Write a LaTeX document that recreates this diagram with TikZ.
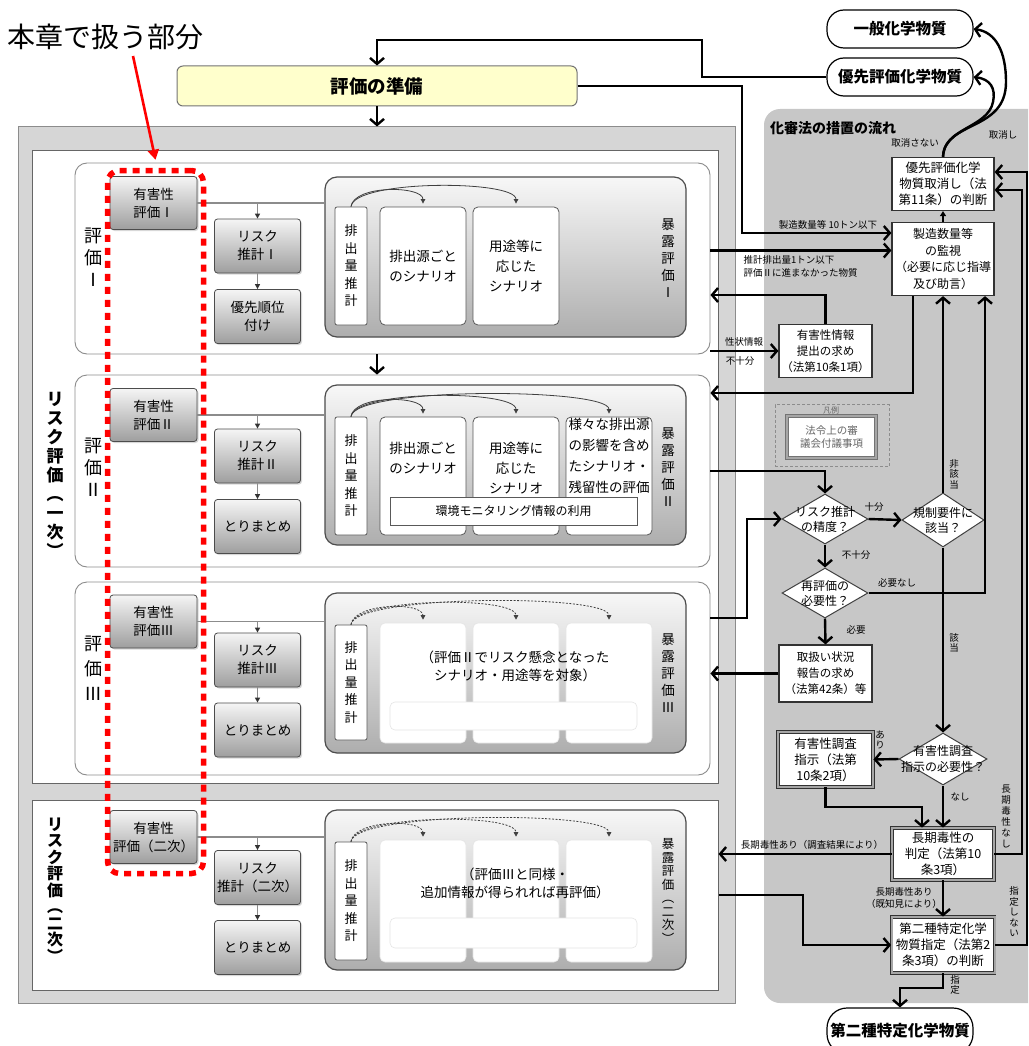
\documentclass[tikz,border=0pt]{standalone}
\usepackage{fontspec}
\setmainfont{Noto Sans CJK JP}
\usetikzlibrary{arrows.meta,shapes.geometric,calc,shadows}
\definecolor{prepy}{RGB}{255,255,204}
\newcommand\myfs[2]{\fontsize{#1}{#2}\selectfont}
\begin{document}
\begin{tikzpicture}[x=1pt,y=-1pt,
  hz/.style={draw=black!70, line width=0.8pt, rounded corners=3pt, top color=black!4, bottom color=black!38, align=center, minimum width=87pt, minimum height=53pt, inner sep=1pt, font=\myfs{13.5}{18}, drop shadow={shadow xshift=1.5pt, shadow yshift=-1.5pt, opacity=0.3}},
  wpanel/.style={draw=black!45, line width=0.9pt, fill=white, rounded corners=12pt, inner sep=0pt},
  expanel/.style={draw=black!70, line width=1.2pt, rounded corners=12pt, top color=black!3, bottom color=black!32, inner sep=0pt},
  scen/.style={draw=black!65, line width=0.8pt, fill=white, rounded corners=5pt, minimum width=86pt, minimum height=118pt, align=center, font=\myfs{13.5}{20}, inner sep=0pt},
  fade/.style={draw=black!10, line width=0.6pt, fill=white, rounded corners=5pt, inner sep=0pt},
  emis/.style={draw=black!65, line width=0.8pt, fill=white, rounded corners=2pt, minimum width=32pt, align=center, font=\myfs{13}{17.5}, inner sep=0pt},
  vlab/.style={align=center, inner sep=0pt, font=\myfs{18}{22}},
  exlab/.style={align=center, inner sep=0pt, font=\myfs{13.5}{17}},
  stext/.style={align=center, inner sep=0pt, font=\myfs{13.5}{20}},
  rbox/.style={draw=black!80, line width=1.2pt, fill=white, align=center, inner sep=0pt, font=\myfs{12.5}{16}},
  dbox/.style={rbox, draw=black!80, double=black!35, double distance=2pt, line width=0.8pt},
  pill/.style={draw=black, line width=1.2pt, fill=white, rounded corners=17pt, font=\bfseries\myfs{15.5}{17}, minimum width=146pt, minimum height=38pt, inner sep=0pt},
  dia/.style={diamond, draw=black!75, line width=1pt, fill=white, minimum width=86pt, minimum height=50pt, inner sep=0pt},
  dtext/.style={align=center, inner sep=0pt, font=\myfs{12}{15}},
  lbl/.style={inner sep=0.5pt, font=\myfs{9.5}{11}, align=center},
  arr/.style={line width=2.4pt, -{Straight Barb[length=6pt,width=14pt]}},
  gline/.style={draw=black!45, line width=1.3pt},
  tarr/.style={draw=black!45, line width=1.3pt, -{Triangle[length=5pt,width=5pt,fill=black!80,color=black!80]}},
  carr/.style={draw=black!75, line width=0.8pt, -{Triangle[length=4.5pt,width=4.5pt]}},
  dcarr/.style={carr, dash pattern=on 2pt off 1.5pt},
]
\useasboundingbox (0,0) rectangle (1028,1046);
\clip (0,0) rectangle (1028,1046);

% ---------- top ----------
\node[anchor=west, inner sep=0pt, font=\myfs{28}{30}] (title) at (7,37) {本章で扱う部分};
\node[draw=black!55, line width=1pt, fill=prepy, rounded corners=6pt, minimum width=400pt, minimum height=40pt, font=\bfseries\myfs{18.5}{20}] (prep) at (377,86) {評価の準備};

% ---------- left big frame ----------
\node[draw=black!45, fill=black!16, line width=1pt, minimum width=717pt, minimum height=876pt, inner sep=0pt] (outer) at (376.5,565) {};
\node[draw=black!60, fill=white, line width=1pt, minimum width=686pt, minimum height=633pt, inner sep=0pt] (r1) at (375,466.5) {};
\node[draw=black!60, fill=white, line width=1pt, minimum width=686pt, minimum height=190pt, inner sep=0pt] (r2) at (375,895) {};

\node[vlab, font=\bfseries\myfs{17}{19}] (L1) at (55,475) {リ\\ス\\ク\\評\\価\\︵\\一\\次\\︶};
\node[vlab, font=\bfseries\myfs{16}{16.5}] (L2) at (55,890) {リ\\ス\\ク\\評\\価\\︵\\二\\次\\︶};

\node[wpanel, minimum width=635pt, minimum height=191pt] (e1) at (392.5,258.5) {};
\node[wpanel, minimum width=635pt, minimum height=192pt] (e2) at (392.5,471) {};
\node[wpanel, minimum width=635pt, minimum height=193pt] (e3) at (392.5,678.5) {};

\node[vlab] (v1) at (93,257) {評\\価\\Ⅰ};
\node[vlab] (v2) at (93,467) {評\\価\\Ⅱ};
\node[vlab, font=\myfs{18}{25}] (v3) at (93,668) {評\\価\\Ⅲ};

% hazard / risk boxes
\node[hz] (h1) at (153.5,203) {有害性\\評価Ⅰ};
\node[hz] (h2) at (153.5,415) {有害性\\評価Ⅱ};
\node[hz] (h3) at (153.5,621.5) {有害性\\評価Ⅲ};
\node[hz] (h4) at (153.5,837) {有害性\\評価（二次）};

\node[hz, minimum width=86pt, minimum height=54pt] (k1) at (257.5,246) {リスク\\推計Ⅰ};
\node[hz, minimum width=86pt, minimum height=54pt] (p1) at (257.5,316.5) {優先順位\\付け};
\node[hz, minimum width=86pt, minimum height=54pt] (k2) at (257.5,456) {リスク\\推計Ⅱ};
\node[hz, minimum width=86pt, minimum height=54pt] (q2) at (257.5,526.5) {とりまとめ};
\node[hz, minimum width=86pt, minimum height=54pt] (k3) at (257.5,660) {リスク\\推計Ⅲ};
\node[hz, minimum width=86pt, minimum height=54pt] (q3) at (257.5,730) {とりまとめ};
\node[hz, minimum width=86pt, minimum height=54pt] (k4) at (257.5,877.5) {リスク\\推計（二次）};
\node[hz, minimum width=86pt, minimum height=54pt] (q4) at (257.5,947.5) {とりまとめ};

% exposure panels
\node[expanel, minimum width=361pt, minimum height=160pt] (x1) at (505.5,257) {};
\node[expanel, minimum width=361pt, minimum height=160pt] (x2) at (505.5,465) {};
\node[expanel, minimum width=361pt, minimum height=160pt] (x3) at (505.5,673) {};
\node[expanel, minimum width=361pt, minimum height=160pt] (x4) at (505.5,890) {};

\node[exlab] (xl1) at (668,258) {暴\\露\\評\\価\\Ⅰ};
\node[exlab] (xl2) at (668,467) {暴\\露\\評\\価\\Ⅱ};
\node[exlab] (xl3) at (668,673) {暴\\露\\評\\価\\Ⅲ};
\node[exlab, font=\myfs{12.5}{13.5}] (xl4) at (668,891) {暴\\露\\評\\価\\︵\\二\\次\\︶};

% panel I
\node[emis, minimum height=118pt] (m1) at (351,266) {排\\出\\量\\推\\計};
\node[scen] (s1a) at (423,266) {排出源ごと\\のシナリオ};
\node[scen] (s1b) at (516,266) {用途等に\\応じた\\シナリオ};

% panel II
\node[emis, minimum height=118pt] (m2) at (351,476) {排\\出\\量\\推\\計};
\node[scen] (s2a) at (423,476) {};
\node[scen] (s2b) at (516,476) {};
\node[scen] (s2c) at (609,476) {};
\node[stext] (t2a) at (423,458) {排出源ごと\\のシナリオ};
\node[stext] (t2b) at (516,468) {用途等に\\応じた\\シナリオ};
\node[stext, font=\myfs{13.5}{21}] (t2c) at (609,456) {様々な排出源\\の影響を含め\\たシナリオ・\\残留性の評価};
\node[draw=black!65, line width=0.8pt, fill=white, minimum width=247pt, minimum height=28pt, inner sep=0pt, font=\myfs{12}{13}] (mo2) at (513.5,511) {環境モニタリング情報の利用};

% panel III
\node[emis, minimum height=115pt] (m3) at (351,682.5) {排\\出\\量\\推\\計};
\node[fade, minimum width=86pt, minimum height=120pt] (f3a) at (423,683) {};
\node[fade, minimum width=86pt, minimum height=120pt] (f3b) at (516,683) {};
\node[fade, minimum width=86pt, minimum height=120pt] (f3c) at (609,683) {};
\node[fade, minimum width=247pt, minimum height=28pt] (w3) at (513.5,716) {};
\node[stext, font=\myfs{13.5}{18}] (t3) at (515,666) {（評価Ⅱでリスク懸念となった\\シナリオ・用途等を対象）};

% panel (二次)
\node[emis, minimum height=118pt] (m4) at (351,901) {排\\出\\量\\推\\計};
\node[fade, minimum width=86pt, minimum height=122pt] (f4a) at (423,901) {};
\node[fade, minimum width=86pt, minimum height=122pt] (f4b) at (516,901) {};
\node[fade, minimum width=86pt, minimum height=122pt] (f4c) at (609,901) {};
\node[fade, minimum width=247pt, minimum height=30pt] (w4) at (513.5,933) {};
\node[stext, font=\myfs{13.5}{18}] (t4) at (515,883) {（評価Ⅲと同様・\\追加情報が得られれば再評価）};

% inner connectors left
\foreach \h/\k/\q/\x in {h1/k1/p1/x1, h2/k2/q2/x2, h3/k3/q3/x3, h4/k4/q4/x4}{
  \draw[gline] (\h.east) -- (\h.east -| \x.west);
  \draw[tarr] (\h.east -| \k.north) -- (\k.north);
  \draw[tarr] (\k.south) -- (\q.north);
}
\draw[carr] (m1.north) .. controls +(3,-22) and +(0,-18) .. ([yshift=3pt]s1a.north);
\draw[carr] (m1.north) .. controls +(3,-27) and +(0,-24) .. ([yshift=3pt]s1b.north);
\draw[carr] (m2.north) .. controls +(3,-22) and +(0,-18) .. ([yshift=3pt]s2a.north);
\draw[carr] (m2.north) .. controls +(3,-27) and +(0,-24) .. ([yshift=3pt]s2b.north);
\draw[carr] (m2.north) .. controls +(3,-30) and +(0,-26) .. ([yshift=3pt]s2c.north);
\draw[dcarr] (m3.north) .. controls +(3,-22) and +(0,-18) .. ([yshift=3pt]f3a.north);
\draw[dcarr] (m3.north) .. controls +(3,-27) and +(0,-24) .. ([yshift=3pt]f3b.north);
\draw[dcarr] (m3.north) .. controls +(3,-30) and +(0,-26) .. ([yshift=3pt]f3c.north);
\draw[dcarr] (m4.north) .. controls +(3,-22) and +(0,-18) .. ([yshift=3pt]f4a.north);
\draw[dcarr] (m4.north) .. controls +(3,-27) and +(0,-24) .. ([yshift=3pt]f4b.north);
\draw[dcarr] (m4.north) .. controls +(3,-30) and +(0,-26) .. ([yshift=3pt]f4c.north);

% ---------- right panel ----------
\fill[black!22, rounded corners=16pt] (764,109) rectangle (1070,1003);
\node[anchor=west, inner sep=0pt, font=\bfseries\myfs{14}{16}] (ttl) at (770,128) {化審法の措置の流れ};

\node[pill] (g1) at (900,29) {一般化学物質};
\node[pill] (g2) at (900,77) {優先評価化学物質};
\node[rbox, minimum width=102pt, minimum height=53pt] (cx) at (943,184) {優先評価化学\\物質取消し（法\\第11条）の判断};
\node[rbox, minimum width=102pt, minimum height=73pt, font=\myfs{12}{16.5}] (mon) at (943,259) {製造数量等\\の監視\\（必要に応じ指導\\及び助言）};
\node[rbox, minimum width=93pt, minimum height=53pt, font=\myfs{11.5}{16}] (hreq) at (825.5,351) {有害性情報\\提出の求め\\（法第10条1項）};

\node[draw=black!45, line width=0.8pt, dash pattern=on 3pt off 2pt, minimum width=114pt, minimum height=62pt, inner sep=0pt] (leg) at (832,435.5) {};
\node[inner sep=0pt, font=\myfs{8}{9}, text=black!60] (legt) at (831,410) {凡例};
\node[dbox, draw=black!55, text=black!60, font=\myfs{10.5}{13}, minimum width=89pt, minimum height=42pt] (legb) at (831.5,437) {法令上の審\\議会付議事項};

\node[dia] (d1) at (825,519) {};
\node[dtext] (d1t) at (d1) {リスク推計\\の精度？};
\node[dia, minimum width=82pt, minimum height=54pt] (d2) at (943,520) {};
\node[dtext] (d2t) at (d2) {規制要件に\\該当？};
\node[dia] (d3) at (825,593) {};
\node[dtext] (d3t) at (d3) {再評価の\\必要性？};
\node[rbox, minimum width=93pt, minimum height=57pt, font=\myfs{11.5}{16}] (rep) at (825.5,673.5) {取扱い状況\\報告の求め\\（法第42条）等};
\node[dia, minimum width=88pt, minimum height=52pt] (d4) at (943,759) {};
\node[dtext, font=\myfs{12}{16}] (d4t) at (d4) {有害性調査\\指示の必要性？};
\node[dbox, minimum width=95pt, minimum height=55pt] (inv) at (825.5,759.5) {有害性調査\\指示（法第\\10条2項）};
\node[dbox, minimum width=102pt, minimum height=52pt] (lt) at (943,854) {長期毒性の\\判定（法第10\\条3項）};
\node[dbox, minimum width=103pt, minimum height=56pt] (sp) at (943,945) {第二種特定化学\\物質指定（法第2\\条3項）の判断};
\node[pill, minimum height=46pt, rounded corners=20pt] (g3) at (900,1031) {第二種特定化学物質};

% ---------- connectors ----------
\coordinate (b2) at (702,40);
\draw[arr] (g2.west) -| (b2) -| (prep.north);
\draw[arr] (prep.south) -- (prep.south |- outer.north);
\draw[arr] (e1.south -| prep.south) -- (e2.north -| prep.south);

\coordinate (b1) at (742,233);
\draw[arr] (prep.east) -| (b1) -- (b1 -| mon.west);
\node[lbl, anchor=south] (l1) at (828,230) {製造数量等 10トン以下};

\draw[arr] ([yshift=8pt]e1.east) -- ([yshift=8pt]e1.east -| mon.west);
\node[lbl, anchor=north west, align=left, font=\myfs{9.5}{13}] (l2) at (743,255) {推計排出量1トン以下\\評価Ⅱに進まなかった物質};

\draw[arr] (hreq.north) |- ([yshift=-36.5pt]e1.east);
\draw[arr] (e1.east |- hreq.west) -- (hreq.west);
\node[lbl, anchor=south] (l3) at (744,347) {性状情報};
\node[lbl, anchor=north] (l4) at (740,356) {不十分};

\draw[arr] ([xshift=-30pt]mon.south) |- ([yshift=78pt]e2.east);
\draw[line width=1.3pt, -{Triangle[length=5pt,width=6pt]}] (mon.north) -- (cx.south);

\draw[arr] (e2.east) -| (d1.north);
\coordinate (b3) at (747,618);
\draw[arr] (b3 -| e3.east) -- (b3) |- (d1.west);

\draw[arr] (d1.east) -- (d2.west);
\node[lbl] (l5) at (874,507) {十分};
\draw[arr] (d1.south) -- (d3.north);
\node[lbl] (l6) at (856,555) {不十分};
\draw[arr] (d3.south) -- (rep.north);
\node[lbl] (l7) at (856,630) {必要};
\draw[arr] (d3.east) -| ([xshift=42pt]mon.south);
\node[lbl] (l8) at (897,583) {必要なし};
\draw[arr] (d2.north) -- (d2.north |- mon.south);
\node[lbl, font=\myfs{9.5}{10.5}] (l9) at (954,474) {非\\該\\当};
\draw[arr] (rep.west) -- (rep.west -| e3.east);

\draw[arr] (d2.south) -- (d4.north);
\node[lbl, font=\myfs{9.5}{10.5}] (l10) at (954,643) {該\\当};
\draw[arr] (d4.west) -- (inv.east);
\node[lbl, font=\myfs{9.5}{10.5}] (l11) at (880,740) {あ\\り};
\draw[arr] (d4.south) -- (lt.north);
\node[lbl] (l12) at (960,797) {なし};
\coordinate (b4) at (922,807);
\draw[arr] (inv.south) |- (b4) -- (b4 |- lt.north);

\draw[arr] (lt.west) -- (lt.west -| r2.east);
\node[lbl, anchor=south] (l13) at (812,850) {長期毒性あり（調査結果により）};
\draw[arr] (lt.south) -- (sp.north);
\node[lbl, font=\myfs{9.5}{12}] (l14) at (904,898) {長期毒性あり\\（既知見により）};
\coordinate (b5) at (1022,190);
\draw[arr] (lt.east) -| (b5) -- (b5 -| cx.east);
\node[lbl, font=\myfs{9.5}{11}] (l15) at (1006,816) {長\\期\\毒\\性\\な\\し};
\coordinate (b6) at (1027,172);
\draw[arr] (sp.east) -| (b6) -- (b6 -| cx.east);
\node[lbl, font=\myfs{9.5}{10.5}] (l16) at (1014,912) {指\\定\\し\\な\\い};
\coordinate (b7) at (900,988);
\draw[arr] (sp.south) |- (b7) -- (g3.north);
\node[lbl, font=\myfs{9.5}{10.5}] (l17) at (955,985) {指\\定};
\coordinate (b8) at (803,895);
\draw[arr] (b8 -| r2.east) -- (b8) |- (sp.west);

\draw[arr] (cx.north) .. controls (945,120) and (1006,132) .. (1006,82) .. controls (1006,52) and (996,32) .. (g1.east);
\draw[arr] (cx.north) .. controls (943,128) and (988,128) .. (993,102) .. controls (996,88) and (990,79) .. (g2.east);
\node[lbl] (l18) at (915,143) {取消さない};
\node[lbl] (l19) at (1003,135) {取消し};

% ---------- red focus ----------
\node[draw=red, line width=5.5pt, dash pattern=on 7pt off 6pt, rounded corners=12pt, minimum width=96pt, minimum height=703pt, inner sep=0pt] (focus) at (155.5,522) {};
\coordinate (rs) at (133,56);
\draw[red, line width=2.6pt, -{Triangle[length=10pt,width=11pt]}] (rs) -- ([yshift=8pt]focus.north);
\end{tikzpicture}
\end{document}
